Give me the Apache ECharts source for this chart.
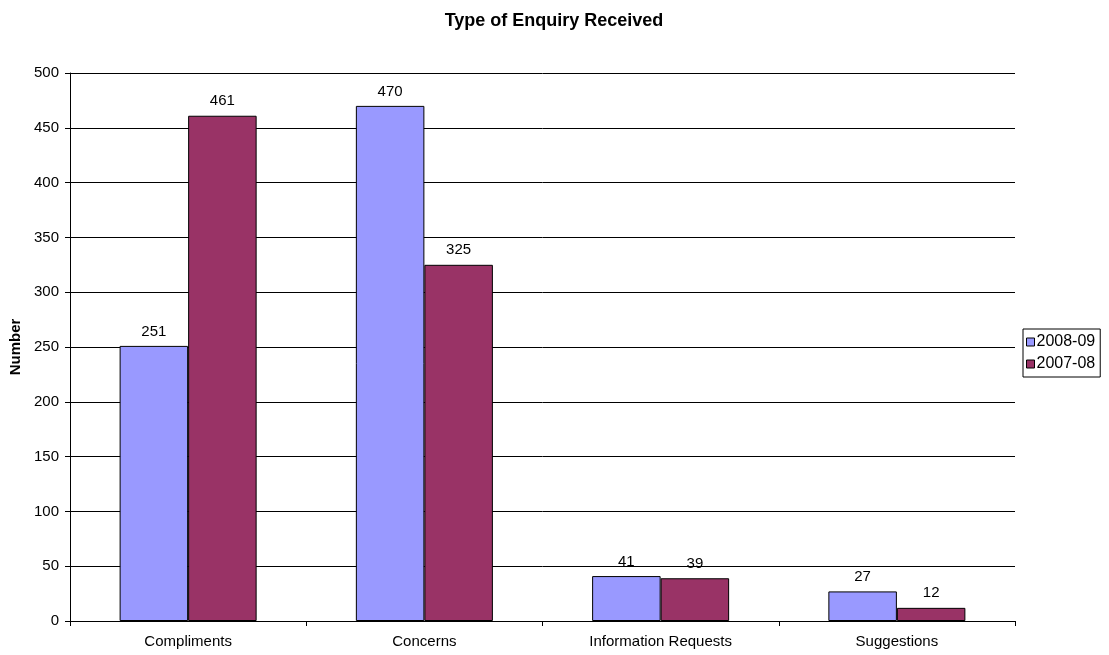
<!DOCTYPE html>
<html>
<head>
<meta charset="utf-8">
<script src="https://cdn.jsdelivr.net/npm/echarts@6/dist/echarts.min.js"></script>
<style>
  html, body { margin: 0; padding: 0; background: #fff; }
  #chart { width: 1109px; height: 655px; }
</style>
</head>
<body>
<div id="chart"></div>
<script>
// Enquiry categories and yearly counts
const categories = ['Compliments', 'Concerns', 'Information Requests', 'Suggestions'];
const values2008_09 = [251, 470, 41, 27];
const values2007_08 = [461, 325, 39, 12];
const seriesNames = ['2008-09', '2007-08'];

const FONT = 'Liberation Sans, Arial, sans-serif';

const chart = echarts.init(document.getElementById('chart'), null, { renderer: 'canvas' });

function barSeries(name, data, color) {
  return {
    name: name,
    type: 'bar',
    data: data,
    barGap: '0%',
    barCategoryGap: '42%',
    itemStyle: { color: color, borderColor: '#000', borderWidth: 1 },
    label: {
      show: true,
      position: 'top',
      distance: 7,
      color: '#000',
      fontSize: 15,
      fontFamily: FONT
    }
  };
}

chart.setOption({
  animation: false,
  backgroundColor: '#fff',
  title: {
    text: 'Type of Enquiry Received',
    left: 549,
    textAlign: 'center',
    top: 7,
    textStyle: { fontSize: 18, fontWeight: 'bold', color: '#000', fontFamily: FONT }
  },
  legend: {
    orient: 'vertical',
    left: 1023,
    top: 329,
    padding: [5, 5, 5, 3],
    itemGap: 6,
    itemWidth: 8,
    itemHeight: 8,
    icon: 'rect',
    borderColor: '#000',
    borderWidth: 1,
    itemStyle: { borderColor: '#000', borderWidth: 1 },
    textStyle: { fontSize: 16, color: '#000', fontFamily: FONT, padding: [0, 0, 0, -3] },
    data: seriesNames
  },
  grid: { left: 70, right: 94, top: 73, bottom: 34, containLabel: false },
  xAxis: {
    type: 'category',
    data: categories,
    axisLine: { lineStyle: { color: '#000', width: 1 } },
    axisTick: { show: true, length: 5, lineStyle: { color: '#000' } },
    axisLabel: { color: '#000', fontSize: 15, margin: 13, fontFamily: FONT }
  },
  yAxis: {
    type: 'value',
    min: 0,
    max: 500,
    interval: 50,
    name: 'Number',
    nameLocation: 'middle',
    nameGap: 46,
    nameTextStyle: { fontSize: 15, fontWeight: 'bold', color: '#000', fontFamily: FONT },
    axisLine: { show: true, lineStyle: { color: '#000', width: 1 } },
    axisTick: { show: true, length: 5, lineStyle: { color: '#000' } },
    axisLabel: { color: '#000', fontSize: 15, margin: 11, fontFamily: FONT },
    splitLine: { show: true, lineStyle: { color: '#000', width: 1 } }
  },
  series: [
    barSeries(seriesNames[0], values2008_09, '#9999FF'),
    barSeries(seriesNames[1], values2007_08, '#993366')
  ]
});
</script>
</body>
</html>
